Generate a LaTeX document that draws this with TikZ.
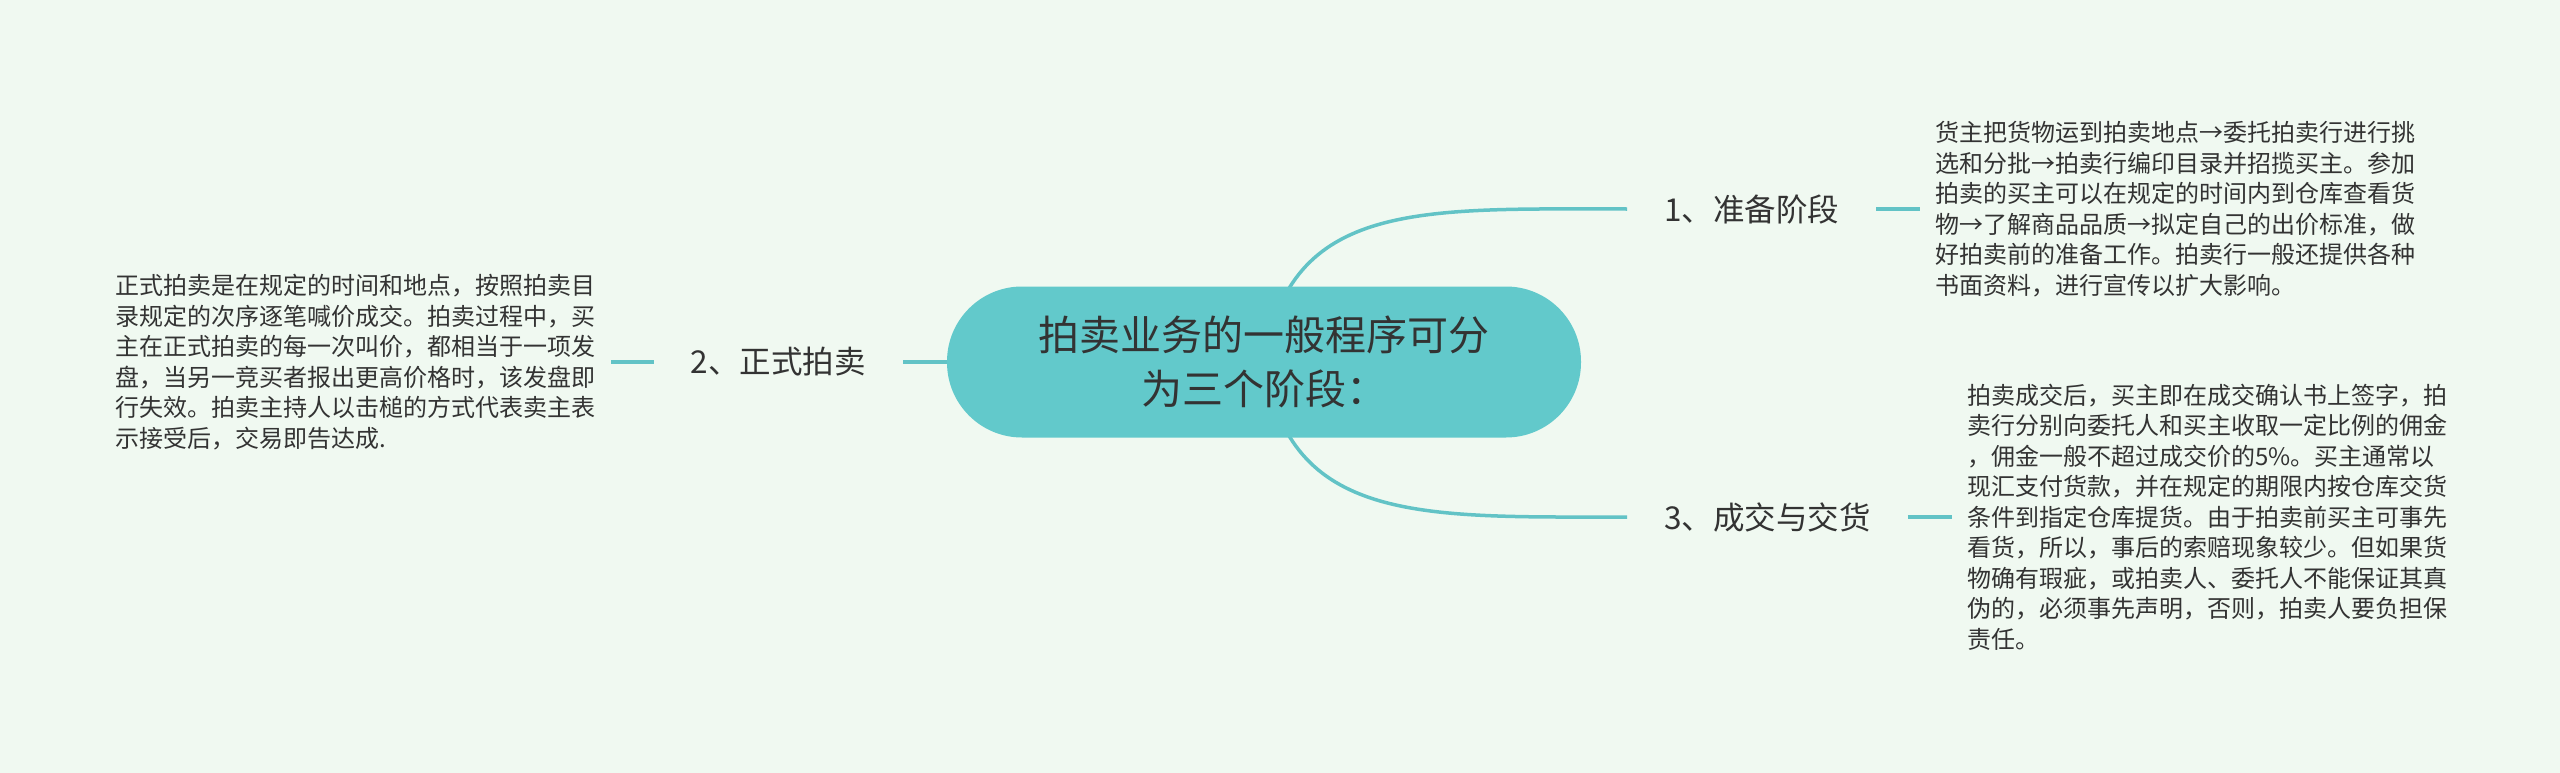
\documentclass[tikz,border=0pt]{standalone}
\usepackage{fontspec}
\setmainfont{Noto Sans CJK SC}
\usetikzlibrary{calc}
\usetikzlibrary{backgrounds}
\definecolor{bgmint}{HTML}{F0F9F1}
\definecolor{rootfill}{HTML}{62C9CB}
\definecolor{branchline}{HTML}{62C3C6}
\definecolor{inkgray}{HTML}{333333}

\begin{document}
\begin{tikzpicture}[x=1pt,y=-1pt,line cap=round]
	\tikzstyle{stage}=[inner xsep=37pt,inner ysep=4pt,text=inkgray,font=\fontsize{31.5}{38}\selectfont];
	\tikzstyle{note}=[inner xsep=15pt,inner ysep=0pt,align=left,text=inkgray,font=\fontsize{24}{30.5}\selectfont];
	\tikzstyle{branch}=[draw=branchline,line width=3.5pt];
	%% Frame
	\useasboundingbox (0,0) rectangle (2560,773);
	%% Root
	\node[fill=rootfill,rounded corners=75pt,minimum width=634pt,minimum height=151pt,
		align=center,text=inkgray,font=\fontsize{41}{54}\selectfont]
		(root) at (1264,362) {拍卖业务的一般程序可分\\为三个阶段：};
	%% Stages
	\node[stage,anchor=west] (s1) at (1627,209) {1、准备阶段};
	\node[stage,anchor=east] (s2) at (903,362)  {2、正式拍卖};
	\node[stage,anchor=west] (s3) at (1627,517) {3、成交与交货};
	%% Notes
	\node[note,anchor=west] (n1) at ($(s1.east)+(44,0)$) {%
		货主把货物运到拍卖地点→委托拍卖行进行挑\\
		选和分批→拍卖行编印目录并招揽买主。参加\\
		拍卖的买主可以在规定的时间内到仓库查看货\\
		物→了解商品品质→拟定自己的出价标准，做\\
		好拍卖前的准备工作。拍卖行一般还提供各种\\
		书面资料，进行宣传以扩大影响。};
	\node[note,anchor=east] (n2) at ($(s2.west)+(-43,0)$) {%
		正式拍卖是在规定的时间和地点，按照拍卖目\\
		录规定的次序逐笔喊价成交。拍卖过程中，买\\
		主在正式拍卖的每一次叫价，都相当于一项发\\
		盘，当另一竞买者报出更高价格时，该发盘即\\
		行失效。拍卖主持人以击槌的方式代表卖主表\\
		示接受后，交易即告达成.};
	\node[note,anchor=west] (n3) at ($(s3.east)+(44,0)$) {%
		拍卖成交后，买主即在成交确认书上签字，拍\\
		卖行分别向委托人和买主收取一定比例的佣金\\
		，佣金一般不超过成交价的5\%。买主通常以\\
		现汇支付货款，并在规定的期限内按仓库交货\\
		条件到指定仓库提货。由于拍卖前买主可事先\\
		看货，所以，事后的索赔现象较少。但如果货\\
		物确有瑕疵，或拍卖人、委托人不能保证其真\\
		伪的，必须事先声明，否则，拍卖人要负担保\\
		责任。};
	%% Lines
	\begin{scope}[on background layer]
		\fill[bgmint] (0,0) rectangle (2560,773);
		\draw[branch] (root.center) .. controls (1290,200) and (1420,209) .. (s1.west);
		\draw[branch] (root.center) -- (s2.east);
		\draw[branch] (root.center) .. controls (1290,524) and (1420,517) .. (s3.west);
		\draw[branch] (s1.east) -- (n1.west);
		\draw[branch] (s2.west) -- (n2.east);
		\draw[branch] (s3.east) -- (n3.west);
	\end{scope}
\end{tikzpicture}
\end{document}
